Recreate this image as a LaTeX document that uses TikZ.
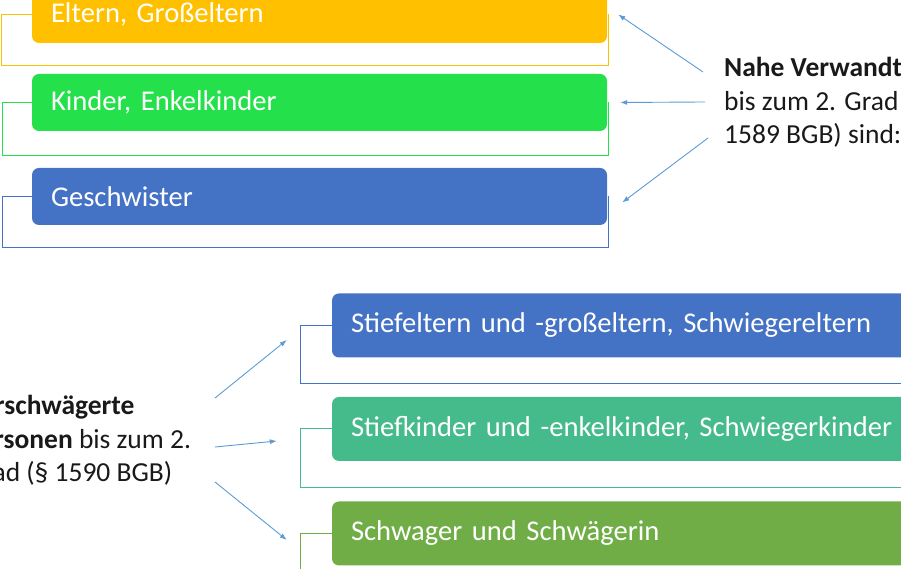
\documentclass[tikz,border=0pt]{standalone}
\usepackage{fontspec}
\setmainfont{Carlito}
\usetikzlibrary{positioning, arrows.meta}

\definecolor{boxorange}{HTML}{FFC000}
\definecolor{boxlime}{HTML}{24E04A}
\definecolor{boxblue}{HTML}{4472C4}
\definecolor{boxteal}{HTML}{45BB8C}
\definecolor{boxgreen}{HTML}{70AD47}
\definecolor{arrowblue}{HTML}{5B9BD5}

\tikzset{
    box/.style={rectangle, rounded corners=7pt, text=white, inner xsep=19pt, align=left,
        font=\fontsize{28.6}{34}\selectfont},
    frame/.style={line width=1pt},
    pointer/.style={-{Latex[length=7pt,width=5pt]}, draw=arrowblue, line width=0.9pt},
    side/.style={align=left, inner sep=0pt, text=black!90, font=\fontsize{27.5}{33.5}\selectfont}
}

\begin{document}
\begin{tikzpicture}[x=1pt, y=1pt]
    \useasboundingbox (0, 0) rectangle (901, 569);

    % nahe Verwandte
    \node [box, fill=boxorange, text width=537pt, minimum height=57pt] (elt) at (319.5, 554.5) {Eltern, Großeltern};
    \node [box, fill=boxlime, text width=537pt, minimum height=57pt] (kin) at (319.5, 466.5) {Kinder, Enkelkinder};
    \node [box, fill=boxblue, text width=537pt, minimum height=57pt] (ges) at (319.5, 372.5) {Geschwister};

    \draw [frame, draw=boxorange] (elt.west) -- ++(-30, 0) |- ([xshift=1pt, yshift=-22pt]elt.south east) -- ([xshift=1pt]elt.east);
    \draw [frame, draw=boxlime] (kin.west) -- ++(-29, 0) |- ([xshift=1pt, yshift=-24pt]kin.south east) -- ([xshift=1pt]kin.east);
    \draw [frame, draw=boxblue] (ges.west) -- ++(-29, 0) |- ([xshift=1pt, yshift=-22pt]ges.south east) -- ([xshift=1pt]ges.east);

    \node [side, anchor=base west] (nah) at (724, 425) {\textbf{Nahe Verwandte}\\bis zum 2. Grad (§\\1589 BGB) sind:};
    \coordinate (n1) at (703, 497);
    \coordinate (n2) at (705, 467);
    \coordinate (n3) at (708, 431);

    \draw [pointer] (n1) -- ([xshift=11pt]elt.east);
    \draw [pointer] (n2) -- ([xshift=13pt]kin.east);
    \draw [pointer] (n3) -- ([xshift=15pt, yshift=-6pt]ges.east);

    % verschwaegerte Personen
    \node [box, fill=boxblue, text width=562pt, minimum height=64pt] (stel) at (632, 243.5) {Stiefeltern und -großeltern, Schwiegereltern};
    \node [box, fill=boxteal, text width=562pt, minimum height=64pt] (stki) at (632, 140) {Stiefkinder und -enkelkinder, Schwiegerkinder};
    \node [box, fill=boxgreen, text width=562pt, minimum height=64pt] (schw) at (632, 35.5) {Schwager und Schwägerin};

    \draw [frame, draw=boxblue] (stel.west) -- ++(-31, 0) |- ([yshift=-26pt]stel.south east);
    \draw [frame, draw=boxteal] (stki.west) -- ++(-31, 0) |- ([yshift=-26pt]stki.south east);
    \draw [frame, draw=boxgreen] (schw.west) -- ++(-31, 0) |- ([yshift=-26pt]schw.south east);

    \node [side, anchor=base west] (vsp) at (-34, 87) {\textbf{Verschwägerte}\\\textbf{Personen} bis zum 2.\\Grad (§ 1590 BGB)};
    \coordinate (v1) at (215, 171);
    \coordinate (v2) at (215, 122);
    \coordinate (v3) at (215, 87);

    \draw [pointer] (v1) -- ([xshift=-45pt, yshift=-14.5pt]stel.west);
    \draw [pointer] (v2) -- ([xshift=-55pt, yshift=-12pt]stki.west);
    \draw [pointer] (v3) -- ([xshift=-45pt, yshift=-6.5pt]schw.west);
\end{tikzpicture}
\end{document}
